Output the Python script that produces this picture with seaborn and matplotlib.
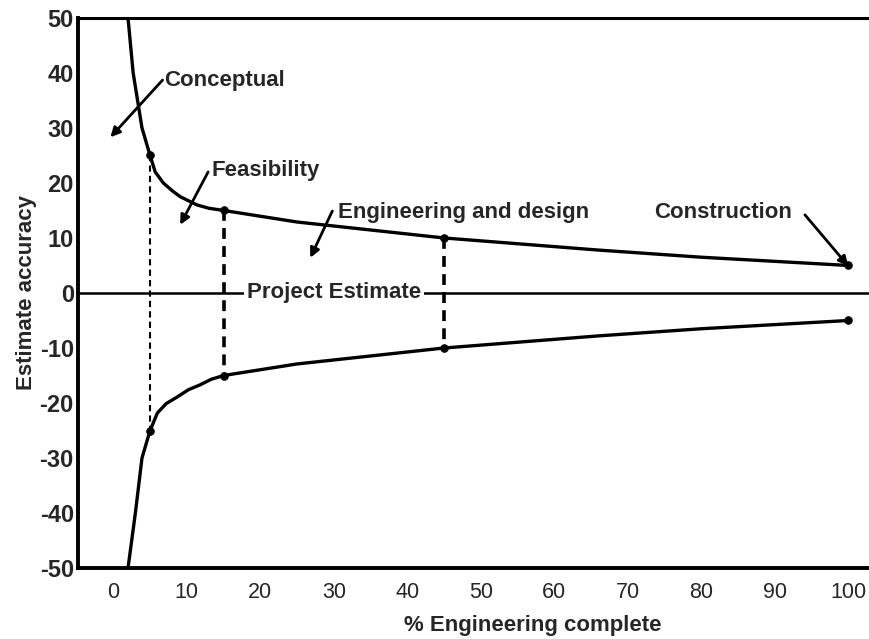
import matplotlib
matplotlib.use('Agg')
import matplotlib.pyplot as plt
import seaborn as sns
import pandas as pd

# values
upper_x = [2, 2.7, 3.3, 3.9, 5, 5.7, 6.8, 8.0, 9.1, 11.4, 13, 15, 25, 45, 66, 80, 100]
upper_y = [50, 40, 35, 30, 25, 22, 20, 18.6, 17.5, 16, 15.4, 15, 12.9, 10, 7.8, 6.5, 5]
lower_x = [2, 3, 3.9, 5, 6, 7.2, 8.7, 10.2, 11.8, 13.3, 15, 25, 45, 66, 80, 100]
lower_y = [-50, -40, -30, -25, -21.8, -20.1, -18.9, -17.6, -16.7, -15.7, -15, -12.9, -10, -7.8, -6.5, -5]

stage_x = [5, 15, 45, 100]
stage_hi = [25, 15, 10, 5]
stage_lo = [-25, -15, -10, -5]

x_ticks = [0, 10, 20, 30, 40, 50, 60, 70, 80, 90, 100]
y_ticks = [50, 40, 30, 20, 10, 0, -10, -20, -30, -40, -50]

# label text, text position, arrow start, arrow tip
labels = [
    ('Conceptual', (6.9, 38.7), (6.7, 38.7), (-0.4, 28.3)),
    ('Feasibility', (13.4, 22.3), (12.9, 22.0), (9.1, 12.4)),
    ('Engineering and design', (30.6, 14.7), (29.8, 14.9), (26.8, 6.4)),
    ('Construction', (73.6, 14.7), (94.1, 14.2), (100, 4.9)),
]

sns.set_style('white')
plt.rcParams['font.family'] = ['Liberation Sans', 'DejaVu Sans']

fig = plt.figure(figsize=(8.7, 6.39), dpi=100)
ax = fig.add_axes([0.0897, 0.111, 0.909, 0.861])

curve_df = pd.concat([
    pd.DataFrame({'x': upper_x, 'y': upper_y, 'side': 'upper'}),
    pd.DataFrame({'x': lower_x, 'y': lower_y, 'side': 'lower'}),
])
sns.lineplot(data=curve_df, x='x', y='y', units='side', estimator=None,
             color='black', linewidth=2.4, ax=ax, legend=False)

# zero line (project estimate)
ax.axhline(0, color='black', linewidth=1.8, zorder=1)

# dashed verticals between the envelopes
for i, (sx, hi, lo) in enumerate(zip(stage_x[:3], stage_hi[:3], stage_lo[:3])):
    lw = 1.5 if i == 0 else 2.6
    ax.plot([sx, sx], [hi, lo], color='black', linestyle=(0, (3, 2)), linewidth=lw)

dots = pd.DataFrame({'x': stage_x + stage_x, 'y': stage_hi + stage_lo})
sns.scatterplot(data=dots, x='x', y='y', color='black', s=32, ax=ax,
                edgecolor='black', zorder=5)

for text, tpos, start, tip in labels:
    ax.annotate('', xy=tip, xytext=start,
                arrowprops=dict(arrowstyle='-|>', color='black', lw=2.0,
                                mutation_scale=14, shrinkA=0, shrinkB=0))
    ax.text(tpos[0], tpos[1], text, fontsize=16, fontweight='bold',
            ha='left', va='center')

ax.text(30, 0, 'Project Estimate', fontsize=16, fontweight='bold',
        ha='center', va='center',
        bbox=dict(facecolor='white', edgecolor='none', pad=2))

ax.set_xlim(-4.8, 102.8)
ax.set_ylim(-50, 50)
ax.set_xticks(x_ticks)
ax.set_yticks(y_ticks)
ax.set_xticklabels([str(t) for t in x_ticks], fontsize=15.5)
ax.set_yticklabels([str(t) for t in y_ticks], fontsize=17, fontweight='bold')
ax.tick_params(axis='both', direction='in', length=7, width=1.5, color='black')
ax.tick_params(axis='x', pad=10)
ax.tick_params(axis='y', pad=3)

ax.set_xlabel('% Engineering complete', fontsize=16, fontweight='bold')
ax.xaxis.set_label_coords(0.575, -0.085)
ax.set_ylabel('Estimate accuracy', fontsize=16, fontweight='bold', labelpad=2)

for side in ['left', 'bottom']:
    ax.spines[side].set_linewidth(2.8)
    ax.spines[side].set_color('black')
ax.spines['top'].set_linewidth(2.2)
ax.spines['top'].set_color('black')
ax.spines['right'].set_visible(False)

fig.savefig('out.png', dpi=100)
